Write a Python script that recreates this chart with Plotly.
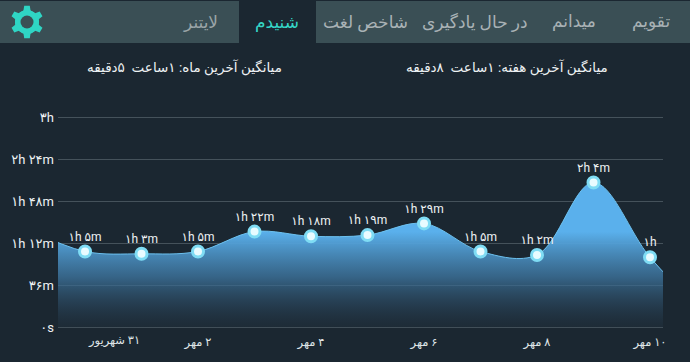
import math
import plotly.graph_objects as go

W, H = 690, 362
PERSIAN_FONT = "Roboto, 'DejaVu Sans'"

days = [-1, 0, 1, 2, 3, 4, 5, 6, 7, 8, 9, 10, 11]
minutes = [84, 65, 63, 65, 82, 78, 79, 89, 65, 62, 124, 60, 10]
labels = ["", "۱h ۵m", "۱h ۳m", "۱h ۵m", "۱h ۲۲m", "۱h ۱۸m", "۱h ۱۹m", "۱h ۲۹m",
          "۱h ۵m", "۱h ۲m", "۲h ۴m", "۱h", ""]

y_ticks = [0, 36, 72, 108, 144, 180]
y_tick_text = ["۰s", "۳۶m", "۱h ۱۲m", "۱h ۴۸m", "۲h ۲۴m", "۳h"]
x_ticks = [2, 4, 6, 8, 10]
x_tick_text = ["\u200f۲ مهر", "\u200f۴ مهر", "\u200f۶ مهر", "\u200f۸ مهر", "\u200f۱۰ مهر"]
first_x_label = "\u200f۳۱ شهریور"

tabs = ["لایتنر", "شنیدم", "شاخص لغت", "در حال یادگیری", "میدانم", "تقویم"]
tab_centers = [200, 277, 365, 475, 574, 651]
tab_colors = ["#9aa5a8", "#35d6c6", "#a9b2b5", "#a9b2b5", "#a9b2b5", "#a9b2b5"]
summary_month = "میانگین آخرین ماه: ۱ساعت\u00a0\u00a0۵دقیقه"
summary_week = "میانگین آخرین هفته: ۱ساعت\u00a0\u00a0۸دقیقه"

BG = "#1b2731"
HEADER = "#3a4f55"
TEAL = "#2fd5c4"


def gear_path(cx, cy, r_out, r_in, teeth=6):
    pts = []
    step = 2 * math.pi / teeth
    for i in range(teeth):
        a = i * step - math.pi / 2
        for da, r in [(-0.30, r_in), (-0.17, r_out), (0.17, r_out), (0.30, r_in)]:
            pts.append((cx + r * math.cos(a + da), cy + r * math.sin(a + da)))
    return "M" + " L".join(f"{x / W:.5f},{1 - y / H:.5f}" for x, y in pts) + " Z"


fig = go.Figure()
fig.add_trace(go.Scatter(
    x=days, y=minutes, mode="lines+markers+text",
    line=dict(shape="spline", smoothing=1.0, color="#6cc0ee", width=1),
    fill="tozeroy",
    fillgradient=dict(type="vertical", colorscale=[
        [0.0, "rgba(36,54,70,0.25)"],
        [0.35, "rgba(62,118,160,0.78)"],
        [0.66, "rgba(90,176,236,1)"],
        [1.0, "rgba(90,176,236,1)"],
    ]),
    marker=dict(size=11, color="#e8fbff", line=dict(color="#7fdcf4", width=3)),
    text=labels, textposition="top center",
    textfont=dict(family=PERSIAN_FONT, size=12, color="#eef2f4"),
    cliponaxis=False, hoverinfo="skip", showlegend=False,
))

shapes = [
    dict(type="rect", xref="paper", yref="paper", x0=0, x1=1, y0=1 - 43 / H, y1=1 - 1 / H,
         fillcolor=HEADER, line_width=0, layer="below"),
    dict(type="rect", xref="paper", yref="paper", x0=239 / W, x1=316 / W, y0=1 - 44 / H, y1=1,
         fillcolor=BG, line_width=0, layer="below"),
    dict(type="path", xref="paper", yref="paper", path=gear_path(27, 22, 16.5, 12),
         fillcolor=TEAL, line_width=0),
    dict(type="circle", xref="paper", yref="paper", x0=15 / W, x1=39 / W,
         y0=1 - 34 / H, y1=1 - 10 / H, fillcolor=TEAL, line_width=0),
    dict(type="circle", xref="paper", yref="paper", x0=20.5 / W, x1=33.5 / W,
         y0=1 - 28.5 / H, y1=1 - 15.5 / H, fillcolor=HEADER, line_width=0),
]

annotations = [
    dict(text=t, x=c / W, y=1 - 22 / H, xref="paper", yref="paper", showarrow=False,
         xanchor="center", yanchor="middle",
         font=dict(family=PERSIAN_FONT, size=17, color=col))
    for t, c, col in zip(tabs, tab_centers, tab_colors)
]
annotations += [
    dict(text=summary_month, x=184 / W, y=1 - 67 / H, xref="paper", yref="paper", showarrow=False,
         xanchor="center", yanchor="middle",
         font=dict(family=PERSIAN_FONT, size=13.5, color="#eef2f4")),
    dict(text=summary_week, x=507 / W, y=1 - 67 / H, xref="paper", yref="paper", showarrow=False,
         xanchor="center", yanchor="middle",
         font=dict(family=PERSIAN_FONT, size=13.5, color="#eef2f4")),
    dict(text=first_x_label, x=0, y=1 - 340 / H, xref="x", yref="paper", xanchor="left", xshift=1,
         yanchor="middle", showarrow=False,
         font=dict(family=PERSIAN_FONT, size=11.5, color="#dfe4e7")),
]

fig.update_layout(
    width=W, height=H, margin=dict(l=0, r=0, t=0, b=0),
    paper_bgcolor=BG, plot_bgcolor=BG, showlegend=False,
    shapes=shapes, annotations=annotations,
    font=dict(family=PERSIAN_FONT),
    xaxis=dict(domain=[58 / W, 663 / W], range=[-0.478, 10.23], tickmode="array",
               tickvals=x_ticks, ticktext=x_tick_text, showgrid=False, zeroline=False,
               showline=False, ticks="", ticklabelstandoff=4, automargin=False,
               tickfont=dict(family=PERSIAN_FONT, size=11.5, color="#dfe4e7")),
    yaxis=dict(domain=[1 - 329.8 / H, 1 - 114.67 / H], range=[-2, 182], tickmode="array",
               tickvals=y_ticks, ticktext=y_tick_text, gridcolor="#45525b", gridwidth=1,
               zeroline=False, showline=False, ticks="", ticklabelstandoff=3, automargin=False,
               tickfont=dict(family=PERSIAN_FONT, size=13, color="#eef2f4")),
)

fig.write_html("out.html", config={"displayModeBar": False},
               post_script="document.body.style.margin='0';document.body.style.overflow='hidden';")
